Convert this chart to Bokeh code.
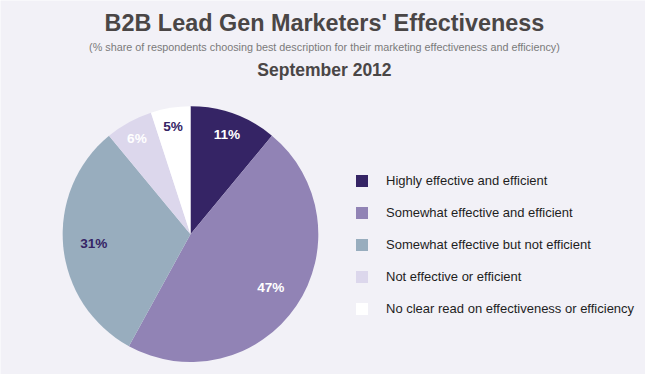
import math
from bokeh.plotting import figure
from bokeh.models import ColumnDataSource, Range1d, Legend, LegendItem
from bokeh.core.properties import value
from bokeh.embed import file_html
from bokeh.resources import INLINE

# ---- data ----
categories = [
    "Highly effective and efficient",
    "Somewhat effective and efficient",
    "Somewhat effective but not efficient",
    "Not effective or efficient",
    "No clear read on effectiveness or efficiency",
]
shares = [11, 47, 31, 6, 5]
slice_colors = ["#352465", "#9183B5", "#98ADBE", "#DCD7EC", "#FFFFFF"]
label_colors = ["#FFFFFF", "#FFFFFF", "#352465", "#FFFFFF", "#352465"]

title_text = "B2B Lead Gen Marketers' Effectiveness"
subtitle_text = "(% share of respondents choosing best description for their marketing effectiveness and efficiency)"
date_text = "September 2012"

BG = "#F2F1F7"
W, H = 645, 374          # figure size in pixels
RW, RH = 661, 390        # design space (reference pixels)
sx, sy = W / RW, H / RH

p = figure(width=W, height=H, output_backend="svg", toolbar_location=None,
           x_range=Range1d(0, RW), y_range=Range1d(0, RH),
           min_border=0, background_fill_color=BG, border_fill_color=BG,
           outline_line_color=None)
p.axis.visible = False
p.grid.visible = False

cx, cy, r = 194.7, RH - 243.7, 131.0
total = float(sum(shares))
starts, ends, lx, ly = [], [], [], []
cum = 0.0
for v in shares:
    a0 = math.pi / 2 - 2 * math.pi * cum / total
    a1 = math.pi / 2 - 2 * math.pi * (cum + v) / total
    starts.append(a1)
    ends.append(a0)
    mid = math.pi / 2 - 2 * math.pi * (cum + v / 2) / total
    f = 0.76 if v >= 20 else (0.84 if v >= 10 else 0.87)
    lx.append(cx + f * r * math.cos(mid))
    ly.append(cy + f * r * math.sin(mid))
    cum += v

src = ColumnDataSource(dict(
    x=[cx] * len(shares), y=[cy] * len(shares),
    start=starts, end=ends, color=slice_colors, cat=categories,
    lx=lx, ly=ly, lab=[f"{v}%" for v in shares], lc=label_colors,
))

wr = p.wedge(x="x", y="y", radius=r, start_angle="start", end_angle="end",
             direction="anticlock", fill_color="color", line_color=None, source=src)

p.text(x="lx", y="ly", text="lab", text_color="lc", source=src,
       text_font=value("Liberation Sans"), text_font_size="13.6px",
       text_font_style="bold", text_align="center", text_baseline="middle")

# titles
p.text(x=[332], y=[RH - 23], text=[title_text], text_font=value("Liberation Sans"),
       text_font_size="23.4px", text_font_style="bold", text_color="#4A4646",
       text_align="center", text_baseline="middle")
p.text(x=[332], y=[RH - 48], text=[subtitle_text], text_font=value("Liberation Sans"),
       text_font_size="10.8px", text_color="#7A7A7A",
       text_align="center", text_baseline="middle")
p.text(x=[332], y=[RH - 72], text=[date_text], text_font=value("Liberation Sans"),
       text_font_size="17.5px", text_font_style="bold", text_color="#4A4646",
       text_align="center", text_baseline="middle")

gl = 15
items = [LegendItem(label=c, renderers=[wr], index=i) for i, c in enumerate(categories)]
legend = Legend(items=items, location=(int(round(362.7 * sx)), int(round(H - 330 * sy))),
                orientation="vertical",
                glyph_width=gl, glyph_height=gl, label_height=gl, label_width=10,
                spacing=int(round(33.7 * sy)) - gl, padding=0, margin=0, label_standoff=17,
                label_text_font="Liberation Sans", label_text_font_size="13px",
                label_text_color="#1E1E1E", background_fill_alpha=0,
                border_line_color=None)
p.add_layout(legend, "center")

open("out.html", "w").write(file_html(p, INLINE))
